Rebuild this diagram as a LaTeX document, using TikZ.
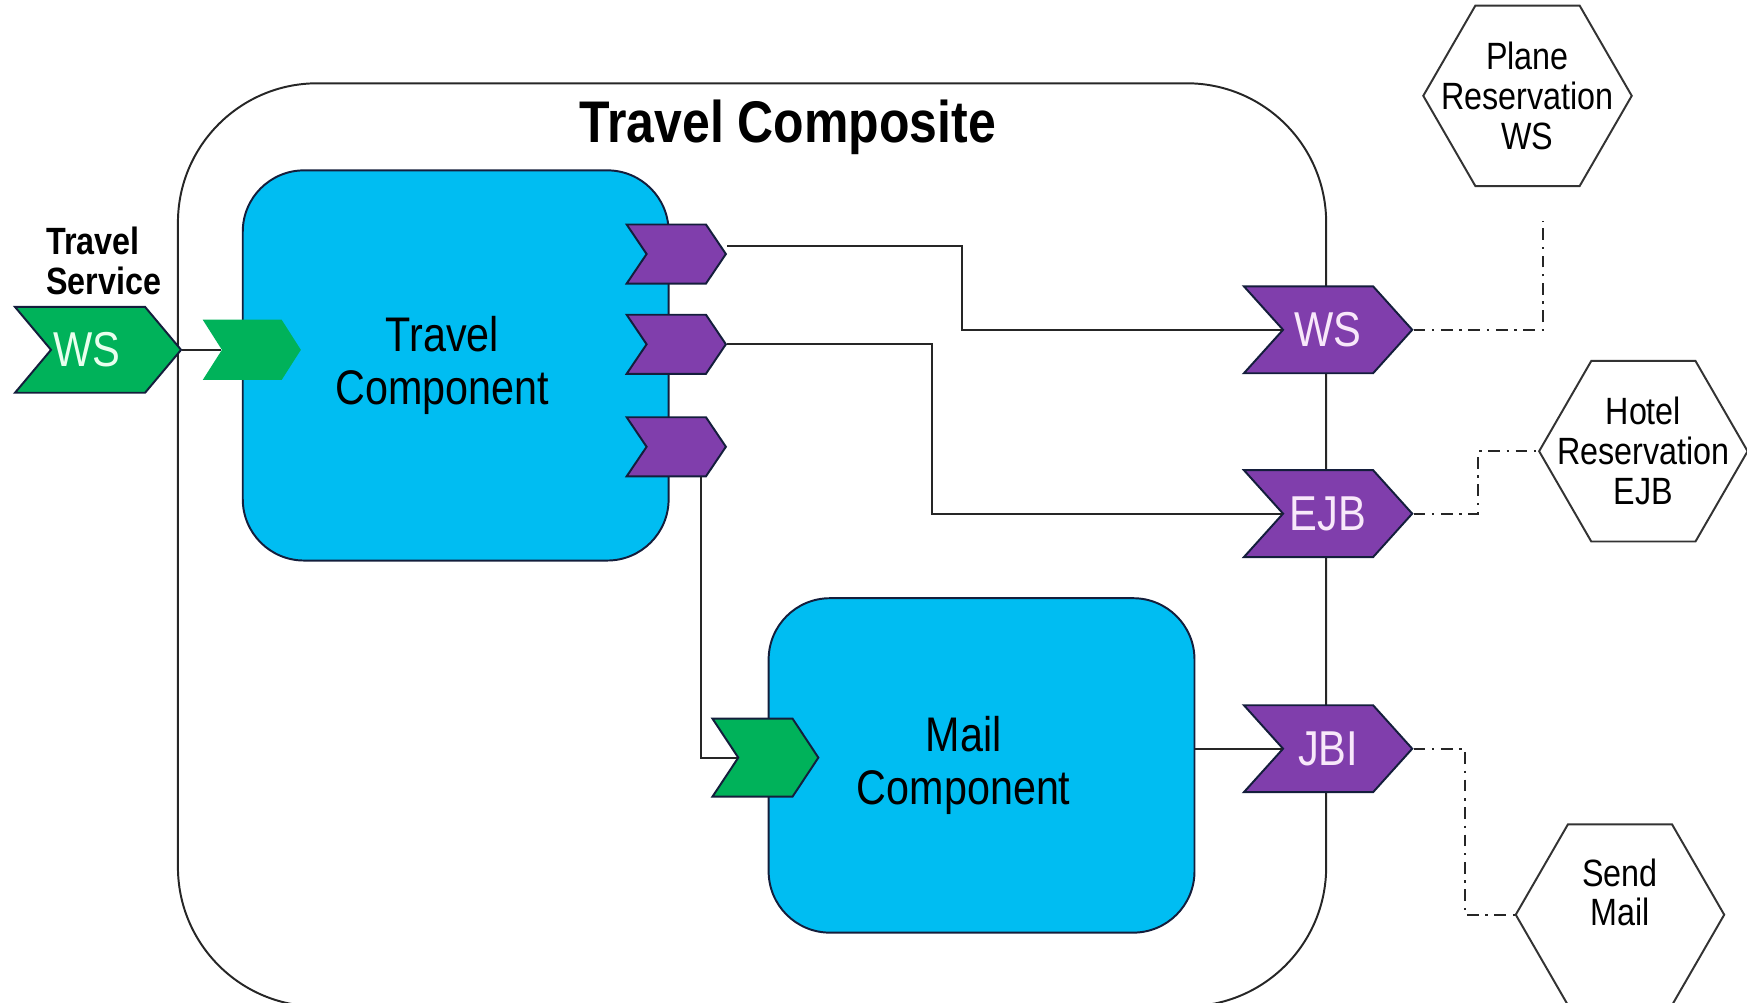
\documentclass[tikz,border=0pt]{standalone}
\usepackage{fontspec}
\setmainfont{Liberation Sans}[FakeStretch=0.85]
\usetikzlibrary{shapes.symbols, shapes.geometric, positioning}

\definecolor{compblue}{RGB}{0,189,242}
\definecolor{svcgreen}{RGB}{0,178,90}
\definecolor{refpurple}{RGB}{128,62,172}
\definecolor{edgenavy}{RGB}{20,30,60}
\definecolor{reftext}{RGB}{248,232,250}
\definecolor{svctext}{RGB}{232,255,238}

\begin{document}
\begin{tikzpicture}[x=0.01cm, y=-0.01cm, line width=0.5pt]
    \tikzstyle{composite}=[draw=black!85, rounded corners=1.25cm,
                       minimum width=10.3cm, minimum height=8.28cm]
    \tikzstyle{component}=[draw=edgenavy, fill=compblue, rounded corners=0.55cm,
                       minimum width=3.82cm]
    \tikzstyle{comptext}=[align=center, font=\fontsize{12.4}{13.4}\selectfont]
    \tikzstyle{chevron}=[signal, signal from=west, signal to=east, inner sep=0pt,
                       font=\fontsize{12.5}{14}\selectfont]
    \tikzstyle{service}=[chevron, fill=svcgreen, text=svctext]
    \tikzstyle{reference}=[chevron, fill=refpurple, draw=edgenavy, text=reftext]
    \tikzstyle{extservice}=[regular polygon, regular polygon sides=6, draw=black!80,
                       minimum size=1.87cm, inner sep=0pt]
    \tikzstyle{hexlabel}=[align=center, font=\fontsize{9.7}{10.2}\selectfont]
    \tikzstyle{wire}=[draw=black!85]
    \tikzstyle{binding}=[wire, dash pattern=on 3pt off 1.7pt on 0.6pt off 1.7pt]

    \useasboundingbox (0,0) rectangle (1568,900);

    % composite and its components
    \node[composite] (comp) at (675,489) {};
    \node[font=\fontsize{15}{18}\selectfont\bfseries] (title) at (707,114) {Travel Composite};
    \node[component, minimum height=3.5cm,
          label={[comptext, xshift=-0.12cm]center:Travel\\Component}] (tc) at (409,328) {};
    \node[component, minimum height=3cm,
          label={[comptext, xshift=-0.16cm]center:Mail\\Component}] (mc) at (881,687) {};

    % services
    \node[service, draw=edgenavy, minimum width=1.49cm, minimum height=0.77cm,
          signal pointer angle=100,
          label={[text=svctext, font=\fontsize{12.5}{14}\selectfont, xshift=-0.1cm]center:WS}]
          (tsws) at (88,314) {};
    \node[font=\fontsize{9.7}{10.2}\selectfont\bfseries, align=left, anchor=west]
          (tslabel) at (29,234) {Travel\\Service};
    \node[service, minimum width=0.88cm, minimum height=0.54cm,
          signal pointer angle=115] (sv) at (226,314) {};
    \node[service, draw=edgenavy, minimum width=0.95cm, minimum height=0.7cm,
          signal pointer angle=113] (ms) at (687,680) {};

    % references
    \node[reference, minimum width=0.89cm, minimum height=0.53cm,
          signal pointer angle=112] (rt1) at (607,228) {};
    \node[reference, minimum width=0.89cm, minimum height=0.53cm,
          signal pointer angle=112] (rt2) at (607,309) {};
    \node[reference, minimum width=0.89cm, minimum height=0.53cm,
          signal pointer angle=112] (rt3) at (607,401) {};
    \node[reference, minimum width=1.51cm, minimum height=0.78cm,
          signal pointer angle=96] (ws)  at (1192,296) {WS};
    \node[reference, minimum width=1.51cm, minimum height=0.78cm,
          signal pointer angle=96] (ejb) at (1192,461) {EJB};
    \node[reference, minimum width=1.51cm, minimum height=0.78cm,
          signal pointer angle=96] (jbi) at (1192,672) {JBI};

    % external services
    \node[extservice, label={[hexlabel]center:Plane\\Reservation\\WS}] (plane) at (1371,86) {};
    \node[extservice, label={[hexlabel]center:Hotel\\Reservation\\EJB}] (hotel) at (1475,405) {};
    \node[extservice, label={[hexlabel, yshift=0.2cm]center:Send\\Mail}] (send) at (1454,821) {};

    % wires
    \path[wire] (tsws.east) -- (sv.west);
    \path[wire] ([yshift=0.07cm]rt1.east) -- ++(211,0) |- (ws.west);
    \path[wire] (rt2.east) -- ++(184,0) |- (ejb.west);
    \path[wire] ([xshift=0.22cm]rt3.south) |- (ms.west);
    \path[wire] (mc.east |- jbi.west) -- (jbi.west);

    % bindings
    \path[binding] (ws.east) -| ([xshift=0.14cm, yshift=-0.3cm]plane.south);
    \path[binding] (ejb.east) -- ++(58,0) |- (hotel.west);
    \path[binding] (jbi.east) -- ++(46,0) |- (send.west);
\end{tikzpicture}
\end{document}
